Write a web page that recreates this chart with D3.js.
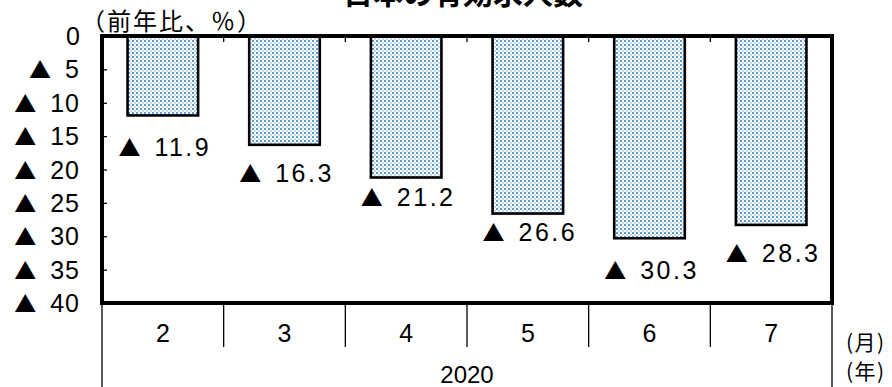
<!DOCTYPE html>
<html>
<head>
<meta charset="utf-8">
<script src="https://cdn.jsdelivr.net/npm/d3@7"></script>
<style>
  html, body { margin: 0; padding: 0; background: #fff; }
  svg { display: block; }
  .num { font-family: "Liberation Sans", "Arial", sans-serif; }
  .jp { font-family: "Noto Sans CJK JP", sans-serif; }
</style>
</head>
<body>
<script>
// Year-over-year change of job openings, Feb–Jul 2020 (%)
const months = ["2", "3", "4", "5", "6", "7"];
const year = "2020";
const values = [-11.9, -16.3, -21.2, -26.6, -30.3, -28.3];
const yTicks = [0, -5, -10, -15, -20, -25, -30, -35, -40];
const title = "日本の有効求人数";
const unitLabel = "（前年比、％）";

// vertical nudges for the value labels below each bar (px)
const labelDy = [32, 28, 19, 18, 32, 28];

const W = 892, H = 387;
const plot = { left: 102, right: 832, top: 36, bottom: 303 };

const svg = d3.select("body").append("svg")
  .attr("width", W).attr("height", H);

// dotted fill for the bars
const defs = svg.append("defs");
const pat = defs.append("pattern")
  .attr("id", "dots").attr("patternUnits", "userSpaceOnUse")
  .attr("width", 4).attr("height", 4);
pat.append("rect").attr("width", 4).attr("height", 4).attr("fill", "#ffffff");
pat.append("rect").attr("x", 0).attr("y", 0).attr("width", 2).attr("height", 2).attr("fill", "#5b9bd5");
pat.append("rect").attr("x", 2).attr("y", 2).attr("width", 2).attr("height", 2).attr("fill", "#c2d9f0");

const x = d3.scaleBand().domain(months)
  .range([plot.left, plot.right]).paddingInner(0.42).paddingOuter(0.21);
const y = d3.scaleLinear().domain([0, -40]).range([plot.top, plot.bottom]);

// title (sits at the very top edge)
svg.append("text").attr("class", "jp")
  .attr("x", 463).attr("y", 4)
  .attr("text-anchor", "middle")
  .attr("font-size", 30).attr("font-weight", 700)
  .text(title);

// unit label
svg.append("text").attr("class", "jp")
  .attr("x", 81).attr("y", 30)
  .attr("font-size", 24).attr("letter-spacing", 2)
  .text(unitLabel);

// bars
svg.append("g").selectAll("rect").data(values).join("rect")
  .attr("x", (d, i) => x(months[i]))
  .attr("y", y(0))
  .attr("width", x.bandwidth())
  .attr("height", d => y(d) - y(0))
  .attr("fill", "url(#dots)")
  .attr("stroke", "#000").attr("stroke-width", 2.6);

// y-axis ticks drawn inside the frame
const yAxis = d3.axisRight(y).tickValues(yTicks).tickSize(5).tickFormat("");
const gy = svg.append("g").attr("transform", `translate(${plot.left},0)`).call(yAxis);
gy.select(".domain").remove();
gy.selectAll("line").attr("stroke", "#000").attr("stroke-width", 1.3);

// y tick labels
const yl = svg.append("g").selectAll("text").data(yTicks).join("text")
  .attr("x", 80).attr("y", d => y(d))
  .attr("dy", "0.36em")
  .attr("text-anchor", "end")
  .attr("font-size", 25);
yl.each(function (d) {
  const t = d3.select(this);
  if (d < 0) {
    t.append("tspan").attr("class", "jp").attr("font-size", 22).text("▲");
    t.append("tspan").attr("class", "num").attr("dx", 14).attr("letter-spacing", 1).text(Math.abs(d));
  } else {
    t.append("tspan").attr("class", "num").text(d);
  }
});

// category boundary ticks along the top edge
const bounds = months.map(m => x(m) - x.step() * x.paddingInner() / 2).slice(1);
svg.append("g").selectAll("line").data(bounds).join("line")
  .attr("x1", d => d).attr("x2", d => d)
  .attr("y1", plot.top).attr("y2", plot.top + 6)
  .attr("stroke", "#000").attr("stroke-width", 1.3);

// value labels
const vl = svg.append("g").selectAll("text").data(values).join("text")
  .attr("x", (d, i) => x(months[i]) + x.bandwidth() / 2 + 2)
  .attr("y", (d, i) => y(d) + labelDy[i])
  .attr("dy", "0.36em")
  .attr("text-anchor", "middle")
  .attr("font-size", 25);
vl.each(function (d) {
  const t = d3.select(this);
  t.append("tspan").attr("class", "jp").attr("font-size", 22).text("▲");
  t.append("tspan").attr("class", "num").attr("dx", 14).attr("letter-spacing", 2.5).text(Math.abs(d).toFixed(1));
});

// frame
svg.append("rect")
  .attr("x", plot.left).attr("y", plot.top)
  .attr("width", plot.right - plot.left).attr("height", plot.bottom - plot.top)
  .attr("fill", "none").attr("stroke", "#000").attr("stroke-width", 4);

// category dividers below the frame
const divs = months.map(m => x(m) - x.step() * x.paddingInner() / 2).concat([plot.right]);
svg.append("g").selectAll("line").data(divs).join("line")
  .attr("x1", d => d).attr("x2", d => d)
  .attr("y1", plot.bottom)
  .attr("y2", (d, i) => (i === 0 || i === divs.length - 1) ? H : 347)
  .attr("stroke", "#000").attr("stroke-width", 1.3);

// month labels
svg.append("g").selectAll("text").data(months).join("text")
  .attr("class", "num")
  .attr("x", d => x(d) + x.bandwidth() / 2)
  .attr("y", 333).attr("dy", "0.36em")
  .attr("text-anchor", "middle")
  .attr("font-size", 25)
  .text(d => d);

// year label
svg.append("text").attr("class", "num")
  .attr("x", (plot.left + plot.right) / 2).attr("y", 374).attr("dy", "0.36em")
  .attr("text-anchor", "middle").attr("font-size", 24)
  .text(year);

// axis unit labels on the right
svg.append("text").attr("class", "jp")
  .attr("x", 846).attr("y", 342).attr("dy", "0.36em")
  .attr("font-size", 21).attr("letter-spacing", 1.5).text("(月)");
svg.append("text").attr("class", "jp")
  .attr("x", 846).attr("y", 371).attr("dy", "0.36em")
  .attr("font-size", 21).attr("letter-spacing", 1.5).text("(年)");
</script>
</body>
</html>
